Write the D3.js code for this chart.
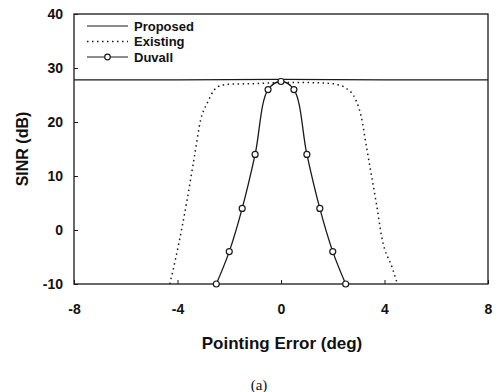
<!DOCTYPE html>
<html>
<head>
<meta charset="utf-8">
<script src="https://cdn.jsdelivr.net/npm/d3@7"></script>
<style>
    body { margin: 0; background: #fff; }
    svg { display: block; }
    .tick text { font-family: "Liberation Sans", Arial, sans-serif; font-weight: bold; font-size: 14px; fill: #111; }
</style>
</head>
<body>
<div id="chart"></div>
<script>
// Proposed beamformer, flat across the whole range
const proposedX = [-8, -4, 0, 4, 8];
const proposedY = [27.8, 27.8, 27.9, 27.8, 27.8];

// Existing (dotted)
const existingX = [-4.3, -4.2, -3.95, -3.65, -3.35, -3.1, -2.85, -2.6, -2.3, -2, -1, 0, 1, 2, 2.2, 2.5, 2.9, 3.1, 3.3, 3.5, 3.7, 3.9, 4.3, 4.5];
const existingY = [-10, -8, -2.5, 5, 13.5, 20.5, 23.5, 25.8, 26.8, 27, 27.1, 27.3, 27.3, 27.1, 26.9, 26.3, 24, 21, 15.5, 10, 4.5, -1.5, -7, -10];

// Duvall (line with open circles)
const duvallX = [-2.5, -2, -1.5, -1, -0.5, 0, 0.5, 1, 1.5, 2, 2.5];
const duvallY = [-10, -4, 4, 14, 26, 27.5, 26, 14, 4, -4, -10];

const xTicks = [-8, -4, 0, 4, 8];
const yTicks = [-10, 0, 10, 20, 30, 40];

const width = 500, height = 392;
const svg = d3.select("#chart").append("svg")
    .attr("width", width)
    .attr("height", height);

const x = d3.scaleLinear().domain([-8, 8]).range([74, 488]);
const y = d3.scaleLinear().domain([-10, 40]).range([284, 14]);

const ink = "#1a1a1a";

// frame
svg.append("rect")
    .attr("x", x(-8)).attr("y", y(40))
    .attr("width", x(8) - x(-8)).attr("height", y(-10) - y(40))
    .attr("fill", "none").attr("stroke", ink).attr("stroke-width", 1.3);

// axes with inward ticks, plain hyphen for negatives
const yAxis = svg.append("g")
    .attr("transform", `translate(${x(-8)},0)`)
    .call(d3.axisLeft(y).tickValues(yTicks).tickSize(-4).tickPadding(11).tickFormat(d => String(d)));
yAxis.select(".domain").remove();
yAxis.selectAll("line").attr("stroke", ink);

const xAxis = svg.append("g")
    .attr("transform", `translate(0,${y(-10)})`)
    .call(d3.axisBottom(x).tickValues(xTicks).tickSize(-4).tickPadding(20).tickFormat(d => String(d)));
xAxis.select(".domain").remove();
xAxis.selectAll("line").attr("stroke", ink);

// lines
const lineGen = (xs, ys, curve) => d3.line()
    .x((d, i) => x(xs[i]))
    .y(d => y(d))
    .curve(curve)(ys);

svg.append("path")
    .attr("d", lineGen(proposedX, proposedY, d3.curveLinear))
    .attr("fill", "none").attr("stroke", ink).attr("stroke-width", 1.3);

svg.append("path")
    .attr("d", lineGen(existingX, existingY, d3.curveMonotoneX))
    .attr("fill", "none").attr("stroke", ink).attr("stroke-width", 1.5)
    .attr("stroke-dasharray", "1.5,3.5");

svg.append("path")
    .attr("d", lineGen(duvallX, duvallY, d3.curveCatmullRom))
    .attr("fill", "none").attr("stroke", ink).attr("stroke-width", 1.3);

svg.selectAll(".duvall")
    .data(duvallY)
    .enter()
    .append("circle")
    .attr("class", "duvall")
    .attr("cx", (d, i) => x(duvallX[i]))
    .attr("cy", d => y(d))
    .attr("r", 3)
    .attr("fill", "#fff")
    .attr("stroke", ink)
    .attr("stroke-width", 1.2);

// legend
const legendItems = [
    { name: "Proposed", dash: null, marker: false },
    { name: "Existing", dash: "1.5,3.5", marker: false },
    { name: "Duvall", dash: null, marker: true }
];
const legend = svg.append("g");
legendItems.forEach((item, i) => {
    const ly = 26 + i * 15.5;
    legend.append("line")
        .attr("x1", 87).attr("x2", 128)
        .attr("y1", ly).attr("y2", ly)
        .attr("stroke", ink).attr("stroke-width", item.dash ? 1.5 : 1.2)
        .attr("stroke-dasharray", item.dash);
    if (item.marker) {
        legend.append("circle")
            .attr("cx", 107.5).attr("cy", ly).attr("r", 2.8)
            .attr("fill", "#fff").attr("stroke", ink).attr("stroke-width", 1.2);
    }
    legend.append("text")
        .attr("x", 134).attr("y", ly)
        .attr("dy", "0.36em")
        .attr("font-family", "Liberation Sans, Arial, sans-serif")
        .attr("font-weight", "bold")
        .attr("font-size", 13)
        .attr("fill", "#111")
        .text(item.name);
});

// axis titles
svg.append("text")
    .attr("x", 282).attr("y", 349)
    .attr("text-anchor", "middle")
    .attr("font-family", "Liberation Sans, Arial, sans-serif")
    .attr("font-weight", "bold")
    .attr("font-size", 17)
    .attr("fill", "#111")
    .text("Pointing Error (deg)");

svg.append("text")
    .attr("transform", "translate(28,149) rotate(-90)")
    .attr("text-anchor", "middle")
    .attr("font-family", "Liberation Sans, Arial, sans-serif")
    .attr("font-weight", "bold")
    .attr("font-size", 16)
    .attr("fill", "#111")
    .text("SINR (dB)");

svg.append("text")
    .attr("x", 259).attr("y", 390)
    .attr("text-anchor", "middle")
    .attr("font-family", "Liberation Serif, Times New Roman, serif")
    .attr("font-size", 15)
    .attr("fill", "#111")
    .text("(a)");
</script>
</body>
</html>
